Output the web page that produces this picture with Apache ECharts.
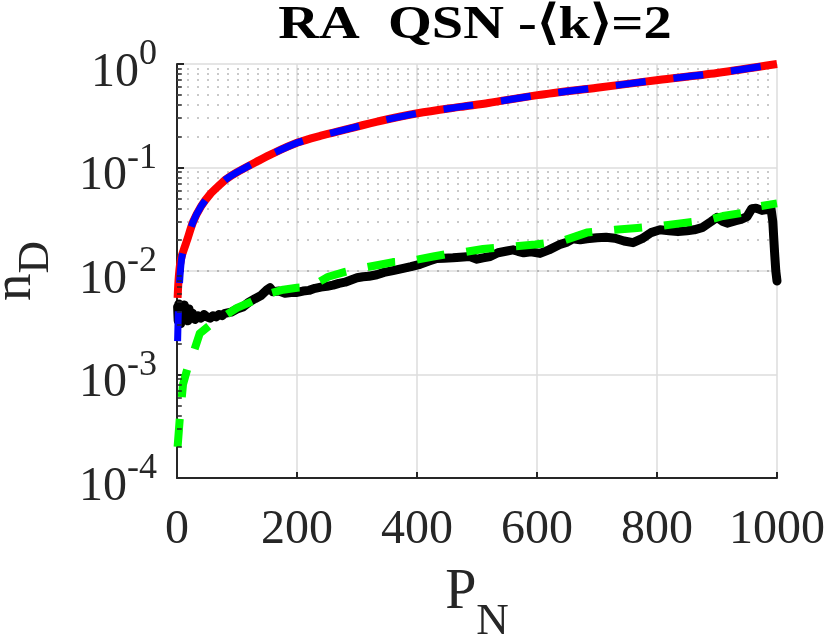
<!DOCTYPE html>
<html>
<head>
<meta charset="utf-8">
<script src="https://cdn.jsdelivr.net/npm/echarts@6/dist/echarts.min.js"></script>
<style>
html,body{margin:0;padding:0;background:#fff;}
#chart{width:830px;height:644px;}
</style>
</head>
<body>
<div id="chart"></div>
<script>
// ---- data ----
const xTicks = [0, 200, 400, 600, 800, 1000];
const yTicks = [0.0001, 0.001, 0.01, 0.1, 1];
const minorTicks = [0.0002,0.0003,0.0004,0.0005,0.0006,0.0007,0.0008,0.0009,
                    0.002,0.003,0.004,0.005,0.006,0.007,0.008,0.009,
                    0.02,0.03,0.04,0.05,0.06,0.07,0.08,0.09,
                    0.2,0.3,0.4,0.5,0.6,0.7,0.8,0.9];

const redX = [1,2,3,5,8,12,17,27,40,55,70,83,100,133,160,201,240,277,340,401,472,519,601,700,802,900,1000];
const redY = [0.0055,0.0072,0.0088,0.0115,0.0140,0.0165,0.020,0.030,0.042,0.055,0.067,0.078,0.090,0.114,0.137,0.174,0.203,0.230,0.283,0.334,0.385,0.420,0.500,0.590,0.700,0.820,1.000];

const blueX = [1,2,3,5,8,12,17,27,40,55,70,83,100,133,160,201,240,277,340,401,472,519,601,700,802,900,1000];
const blueY = [0.0021,0.0036,0.0055,0.0090,0.0135,0.0165,0.020,0.030,0.042,0.055,0.067,0.078,0.090,0.114,0.137,0.174,0.203,0.230,0.283,0.334,0.385,0.420,0.500,0.590,0.700,0.820,1.000];

const greenX = [1,5,10,20,27,38,55,77,100,125,147,177,200,222,252,280,302,338,360,388,427,450,472,510,555,597,642,683,730,767,810,842,885,910,950,968,1000];
const greenY = [0.00020,0.00040,0.00080,0.0013,0.0016,0.0025,0.0030,0.0036,0.0044,0.0051,0.0059,0.0066,0.0069,0.0070,0.0088,0.0098,0.0105,0.0115,0.0122,0.0125,0.0138,0.0146,0.0150,0.0163,0.0172,0.0180,0.0195,0.0235,0.0250,0.0260,0.0275,0.0290,0.0310,0.0340,0.0370,0.0420,0.0450];

const blackX = [1,2,3,4,5,6,8,10,12,14,16,18,20,23,26,30,35,40,45,50,55,60,65,70,75,80,90,100,110,120,130,140,150,155,160,170,180,190,200,210,220,230,240,250,260,270,280,290,300,310,320,333,345,360,377,390,405,420,433,445,460,472,488,500,510,522,535,550,560,568,578,590,605,620,638,650,660,672,683,700,715,730,745,760,775,790,805,820,835,850,862,875,890,900,910,917,930,940,950,958,965,975,985,990,993,996,998,1000];
const blackY = [0.0045,0.0033,0.0048,0.0036,0.0042,0.0031,0.0044,0.0035,0.0047,0.0034,0.0040,0.0033,0.0043,0.0036,0.0039,0.0034,0.0037,0.0035,0.0038,0.0036,0.0035,0.0037,0.0036,0.0038,0.0037,0.0039,0.0040,0.0043,0.0045,0.0050,0.0054,0.0058,0.0066,0.0069,0.0063,0.0064,0.0061,0.0062,0.0062,0.0064,0.0065,0.0068,0.0070,0.0071,0.0073,0.0076,0.0078,0.0082,0.0086,0.0088,0.0089,0.0092,0.0097,0.0101,0.0106,0.0110,0.0116,0.0125,0.0132,0.0133,0.0134,0.0136,0.0138,0.0130,0.0134,0.0138,0.0150,0.0156,0.0160,0.0155,0.0150,0.0153,0.0148,0.0160,0.0180,0.0190,0.0205,0.0200,0.0205,0.0210,0.0212,0.0207,0.0195,0.0188,0.0205,0.0235,0.0250,0.0245,0.0240,0.0245,0.0250,0.0262,0.0300,0.0330,0.0300,0.0290,0.0305,0.0315,0.0335,0.0400,0.0405,0.0385,0.0395,0.0400,0.0300,0.0150,0.0100,0.0080];

const titleText = 'RA  QSN -\u27E8k\u27E9=2';

// ---- chart ----
const FONT = '"Liberation Serif", "Times New Roman", serif';
const TXT = '#262626';
const pairs = (xs, ys) => xs.map((x, i) => [x, ys[i]]);

const chart = echarts.init(document.getElementById('chart'), null, {renderer: 'canvas'});

const option = {
  animation: false,
  backgroundColor: '#ffffff',
  graphic: [{
    type: 'text',
    x: 475, y: 26,
    scaleX: 1.2,
    style: {
      text: titleText,
      font: 'bold 47px ' + FONT,
      fill: '#000000',
      textAlign: 'center',
      textVerticalAlign: 'middle'
    }
  }],
  grid: {left: 177, right: 53, top: 64, bottom: 166, containLabel: false, outerBoundsMode: 'none'},
  xAxis: {
    type: 'value', min: 0, max: 1000, interval: 200,
    name: '{p|P}{n|N}',
    nameLocation: 'middle', nameGap: 87,
    nameTextStyle: {
      rich: {
        p: {fontFamily: FONT, fontSize: 56, color: TXT, verticalAlign: 'top'},
        n: {fontFamily: FONT, fontSize: 45, color: TXT, verticalAlign: 'bottom', padding: [35, 0, 0, 0]}
      }
    },
    axisLine: {show: true, onZero: false, lineStyle: {color: TXT, width: 2}},
    axisTick: {show: true, inside: true, length: 6, lineStyle: {color: TXT, width: 2}},
    axisLabel: {fontFamily: FONT, fontSize: 48, color: TXT, margin: 28, formatter: v => String(v)},
    splitLine: {show: true, lineStyle: {color: '#dcdcdc', width: 1.5}}
  },
  yAxis: {
    type: 'log', logBase: 10, min: 0.0001, max: 1,
    name: '{n|n}{d|D}',
    nameLocation: 'middle', nameRotate: 90, nameGap: 118,
    nameTextStyle: {
      rich: {
        n: {fontFamily: FONT, fontSize: 55, color: TXT, verticalAlign: 'top'},
        d: {fontFamily: FONT, fontSize: 45, color: TXT, verticalAlign: 'bottom', padding: [26, 0, 0, 0]}
      }
    },
    axisLine: {show: true, onZero: false, lineStyle: {color: TXT, width: 2}},
    axisTick: {show: true, inside: true, length: 7, lineStyle: {color: TXT, width: 2}},
    axisLabel: {
      margin: 20,
      formatter: function (v) {
        const e = Math.round(Math.log10(v));
        return '{b|10}{s|' + e + '}';
      },
      rich: {
        b: {fontFamily: FONT, fontSize: 48, color: TXT, verticalAlign: 'bottom', padding: [18, 0, 0, 0]},
        s: {fontFamily: FONT, fontSize: 36, color: TXT, verticalAlign: 'top', padding: [6, 0, 0, 0]}
      }
    },
    splitLine: {show: true, lineStyle: {color: '#dcdcdc', width: 1.5}}
  },
  series: [
    {
      type: 'line', name: 'grid-minor', data: [], silent: true, z: 1,
      markLine: {
        silent: true, symbol: 'none', z: 1, animation: false,
        label: {show: false},
        lineStyle: {type: [2, 8], color: '#b8b8b8', width: 1.5},
        data: minorTicks.map(v => ({yAxis: v}))
      }
    },
    {
      type: 'line', name: 'minor-ticks', data: [], silent: true, z: 1,
      markLine: {
        silent: true, symbol: 'none', z: 6, animation: false,
        label: {show: false},
        lineStyle: {type: 'solid', color: TXT, width: 1.5},
        data: minorTicks.map(v => [{coord: [0, v]}, {coord: [8, v]}])
      }
    },
    {
      type: 'line', name: 'black', data: pairs(blackX, blackY), showSymbol: false, clip: false, z: 3,
      lineStyle: {color: '#000000', width: 9, cap: 'round', join: 'round'}
    },
    {
      type: 'line', name: 'red', data: pairs(redX, redY), showSymbol: false, clip: false, z: 4, smooth: 0.3,
      lineStyle: {color: '#ff0000', width: 8, cap: 'butt', join: 'round'}
    },
    {
      type: 'line', name: 'blue', data: pairs(blueX, blueY), showSymbol: false, clip: false, z: 5, smooth: 0.3,
      lineStyle: {color: '#0000ff', width: 7, type: [30, 28], cap: 'butt', join: 'round'}
    },
    {
      type: 'line', name: 'green', data: pairs(greenX, greenY), showSymbol: false, clip: false, z: 5,
      lineStyle: {color: '#00ff00', width: 8, type: [28, 22], cap: 'butt', join: 'round'}
    }
  ]
};
chart.setOption(option);
</script>
</body>
</html>
